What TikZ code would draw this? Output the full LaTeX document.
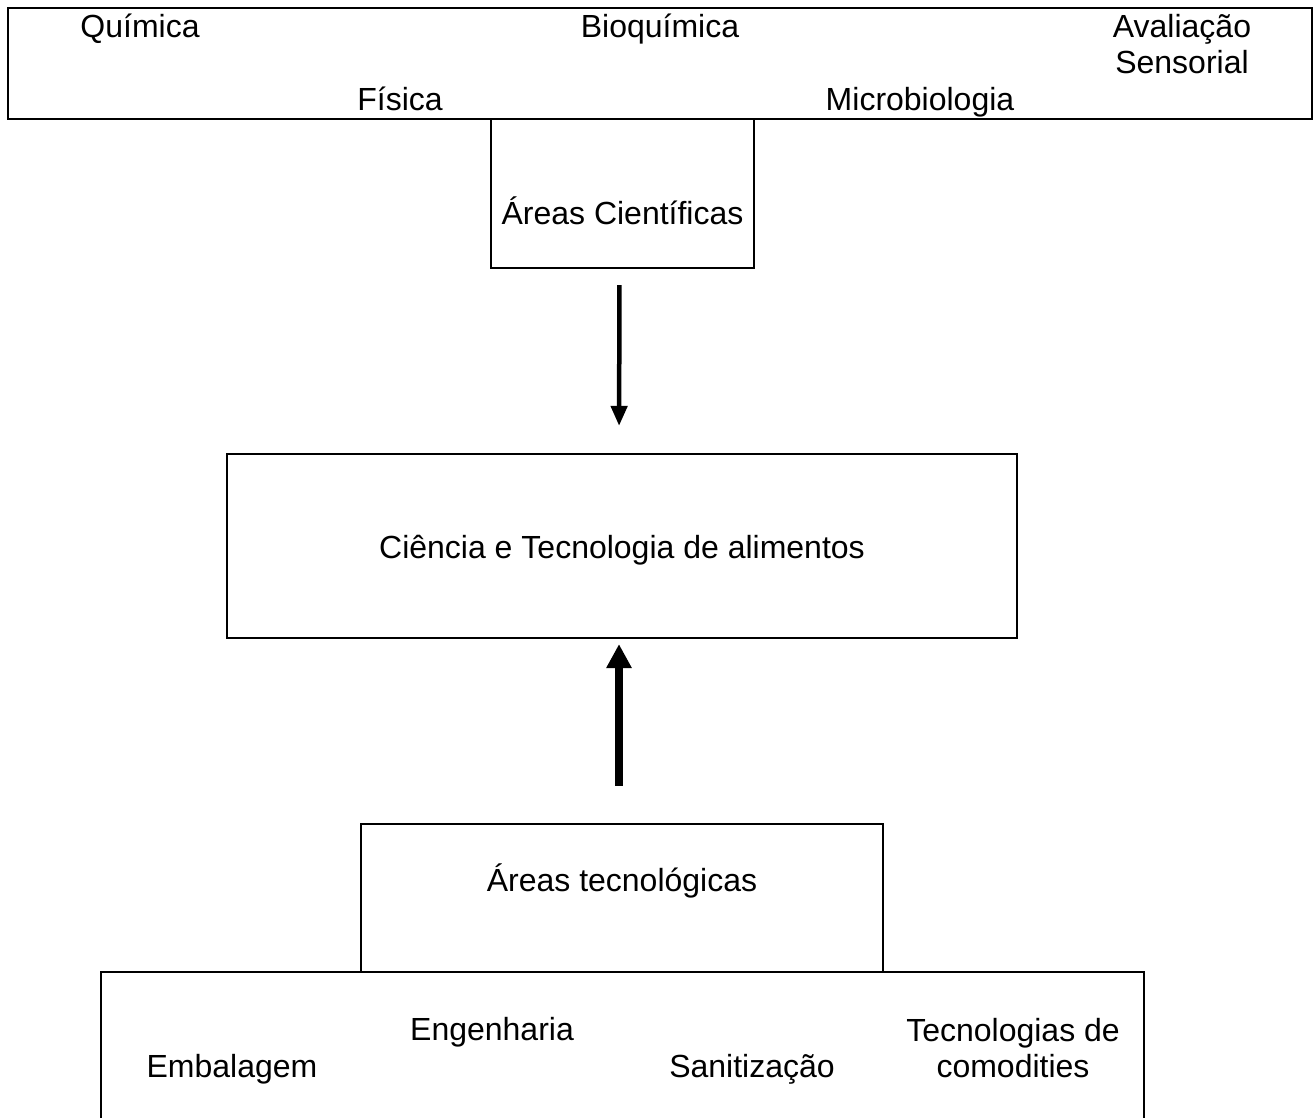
\documentclass[tikz,border=0pt]{standalone}
\usepackage{fontspec}
\setmainfont{Liberation Sans}
\usetikzlibrary{arrows.meta}
\begin{document}
\begin{tikzpicture}[x=1pt,y=-1pt,
  boxed/.style={draw,line width=2.2pt,rectangle,inner sep=0pt},
  label/.style={inner sep=0pt,anchor=base,align=center,
    font=\fontsize{32}{36}\selectfont},
  thinarrow/.style={line width=4.5pt,-{Triangle[width=16pt,length=20pt]}},
  thickarrow/.style={line width=8pt,-{Triangle[width=24pt,length=24pt]}}]
\useasboundingbox[fill=white] (0,0) rectangle (1314,1118);
\clip (0,0) rectangle (1314,1118);

% frame holding the scientific disciplines
\node[boxed,minimum width=1304pt,minimum height=111pt] (sci) at (660,63.5) {};
\node[label] (quim) at (140,38) {Química};
\node[label] (bioq) at (660,38) {Bioquímica};
\node[label] (aval) at (1182,74) {Avaliação\\Sensorial};
\node[label] (fis) at (400,111) {Física};
\node[label] (micro) at (920,111) {Microbiologia};

% scientific areas
\node[boxed,minimum width=263pt,minimum height=149pt] (ac) at (622.5,193.5) {};
\node[label] (actext) at (622.5,224) {Áreas Científicas};

% central box
\node[boxed,minimum width=790pt,minimum height=184pt] (ct) at (622,546) {};
\node[label] (cttext) at (622,558) {Ciência e Tecnologia de alimentos};

% technological areas
\node[boxed,minimum width=522pt,minimum height=148pt] (at) at (622,898) {};
\node[label] (attext) at (622,891) {Áreas tecnológicas};

% frame holding the technological disciplines (runs off the bottom edge)
\node[boxed,minimum width=1043pt,minimum height=168pt] (tec) at (622.5,1056) {};
\node[label] (emb) at (232,1077) {Embalagem};
\node[label] (eng) at (492,1040) {Engenharia};
\node[label] (san) at (752,1077) {Sanitização};
\node[label] (com) at (1013,1077) {Tecnologias de\\comodities};

% connectors
\draw[thinarrow,shorten <=16pt,shorten >=27pt]
  ([xshift=-3pt]ac.south) -- ([xshift=-3pt]ct.north);
\draw[thickarrow,shorten <=37pt,shorten >=5pt]
  ([xshift=-3pt]at.north) -- ([xshift=-3pt]ct.south);
\end{tikzpicture}
\end{document}
